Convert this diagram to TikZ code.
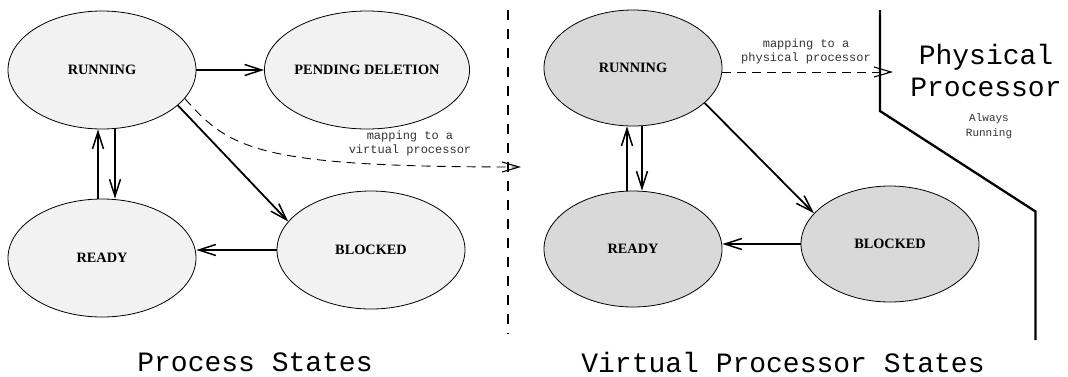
\documentclass[tikz,border=0pt]{standalone}
\usepackage{fontspec}
\setmainfont{Liberation Serif}
\setmonofont{Liberation Mono}
\usetikzlibrary{arrows.meta,shapes.geometric}
\definecolor{procgray}{gray}{0.95}
\definecolor{vpgray}{gray}{0.85}

\begin{document}
\begin{tikzpicture}[x=1pt,y=-1pt,
  state/.style={ellipse,draw,line width=0.8pt,inner sep=0pt,font=\fontsize{14.3}{16}\selectfont\bfseries},
  pstate/.style={state,fill=procgray,minimum width=188pt,minimum height=118pt},
  vstate/.style={state,fill=vpgray,minimum width=178pt,minimum height=116pt},
  trans/.style={line width=1.8pt,-{Straight Barb[length=17pt,width=11pt,line width=1.5pt]}},
  mapping/.style={line width=0.9pt,dash pattern=on 9pt off 6pt,-{Straight Barb[length=17pt,width=10pt,line width=1.1pt]}},
  note/.style={font=\fontsize{12}{14}\selectfont\ttfamily,align=center,inner sep=0pt,text=black!80},
  title/.style={font=\fontsize{28}{32}\selectfont\ttfamily,align=center,inner sep=0pt}]
\useasboundingbox (0,0) rectangle (1068,376);

% process states
\node[pstate] (run1) at (102,70) {RUNNING};
\node[pstate] (pend1) at (367,70) {PENDING DELETION};
\node[pstate] (ready1) at (102,258) {READY};
\node[pstate] (blk1) at (371,250) {BLOCKED};

\draw[trans] (run1.east) -- (pend1.west);
\draw[trans] ([xshift=-4pt]ready1.north) -- ([xshift=-4pt]run1.south);
\draw[trans] ([xshift=13pt]run1.south) -- ([xshift=13pt]ready1.north);
\draw[trans] (run1.-25) -- (blk1.161);
\draw[trans] (blk1.west) -- (blk1.west -| ready1.east);

\coordinate (vp) at (521,167);
\draw[mapping] (run1.-19) .. controls (230,150) and (260,167) .. (vp);
\node[note] at (410,143) {mapping to a\\virtual processor};

% divider
\draw[line width=2.4pt,dash pattern=on 10pt off 9pt] (508,10) -- (508,334);

% virtual processor states
\node[vstate] (run2) at (633,68) {RUNNING};
\node[vstate] (ready2) at (633,249) {READY};
\node[vstate] (blk2) at (890,244) {BLOCKED};

\draw[trans] ([xshift=-6pt]ready2.north) -- ([xshift=-6pt]run2.south);
\draw[trans] ([xshift=9pt]run2.south) -- ([xshift=9pt]ready2.north);
\draw[trans] (run2.-26) -- (blk2.158);
\draw[trans] (blk2.west) -- (blk2.west -| ready2.east);

\coordinate (pp) at (893,72);
\draw[mapping] (run2.east |- pp) -- (pp);
\node[note] at (806,51) {mapping to a\\physical processor};

% physical processor
\draw[line width=2.3pt] (880,10) -- (880,111) -- (1035.5,211.5) -- (1035.5,340);
\node[title] at (986,70) {Physical\\Processor};
\node[note,font=\fontsize{11}{15}\selectfont\ttfamily] at (989,126) {Always\\Running};

% captions
\node[title] (cap1) at (255,362) {Process States};
\node[title] (cap2) at (783,362) {Virtual Processor States};
\end{tikzpicture}
\end{document}
